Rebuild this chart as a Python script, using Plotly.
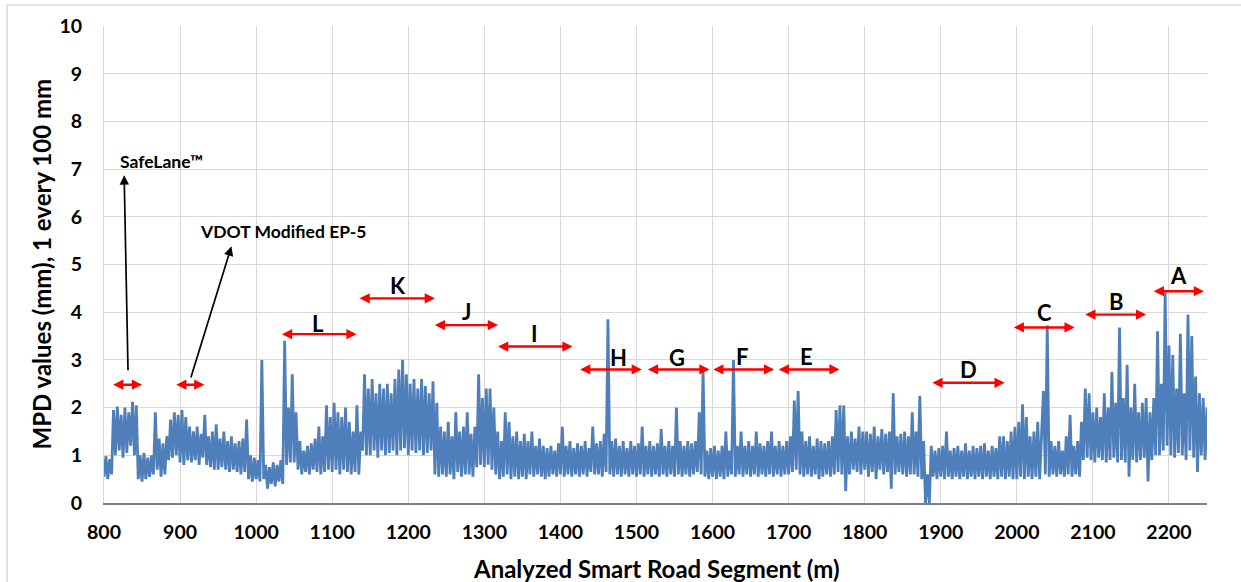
import numpy as np
import plotly.graph_objects as go

# ---- data: MPD profile (one value every 2.5 m, 800 -> 2250 m)
x_start, x_step = 800.0, 2.5
mpd = [
    # 800 - 847.5
    0.55, 0.98, 0.5, 0.92, 0.6, 1.95, 1.0, 2.02, 1.1, 1.85, 0.95, 2.0, 1.05, 1.9, 1.2, 2.12, 1.0, 2.05, 0.5, 1.0,
    # 850 - 897.5
    0.45, 1.05, 0.5, 0.95, 0.55, 1.0, 0.6, 1.9, 0.7, 1.35, 0.55, 1.25, 0.6, 1.4, 0.9, 1.75, 0.95, 1.9, 1.0, 1.85,
    # 900 - 947.5
    0.85, 1.95, 0.8, 1.8, 0.9, 1.6, 0.85, 1.5, 0.9, 1.6, 0.8, 1.45, 0.95, 1.85, 0.8, 1.4, 0.75, 1.5, 0.7, 1.65,
    # 950 - 997.5
    0.7, 1.35, 0.75, 1.5, 0.7, 1.3, 0.65, 1.4, 0.7, 1.25, 0.65, 1.3, 0.6, 1.35, 0.65, 1.75, 0.5, 1.0, 0.45, 0.95,
    # 1000 - 1047.5
    0.5, 0.9, 0.45, 3.0, 0.5, 0.8, 0.3, 0.75, 0.4, 0.85, 0.35, 0.8, 0.45, 0.9, 0.4, 3.4, 0.8, 2.0, 0.85, 2.7,
    # 1050 - 1097.5
    0.85, 1.9, 0.7, 1.3, 0.6, 1.1, 0.65, 1.2, 0.6, 1.25, 0.7, 1.35, 0.65, 1.6, 0.6, 1.4, 0.65, 2.05, 0.7, 1.8,
    # 1100 - 1147.5
    0.65, 2.1, 0.7, 1.9, 0.6, 1.8, 0.7, 2.0, 0.65, 1.7, 0.6, 1.5, 0.65, 2.05, 0.6, 1.5, 1.1, 2.7, 1.0, 2.4,
    # 1150 - 1197.5
    1.0, 2.6, 1.1, 2.3, 0.95, 2.5, 1.1, 2.4, 1.0, 2.5, 1.05, 2.3, 1.1, 2.6, 1.0, 2.8, 1.1, 3.0, 1.15, 2.7,
    # 1200 - 1247.5
    1.0, 2.5, 1.1, 2.6, 1.05, 2.4, 1.1, 2.6, 1.0, 2.45, 1.05, 2.3, 1.1, 2.55, 0.6, 2.1, 0.55, 1.6, 0.6, 1.5,
    # 1250 - 1297.5
    0.55, 1.7, 0.6, 1.4, 0.5, 1.9, 0.65, 1.5, 0.55, 1.6, 0.6, 1.9, 0.6, 1.45, 0.55, 1.6, 0.75, 2.7, 0.8, 2.2,
    # 1300 - 1347.5
    0.75, 2.4, 0.8, 2.4, 0.7, 2.0, 0.6, 1.5, 0.5, 1.3, 0.55, 1.9, 0.6, 1.7, 0.5, 1.4, 0.55, 1.5, 0.5, 1.3,
    # 1350 - 1397.5
    0.55, 1.45, 0.5, 1.3, 0.6, 1.5, 0.55, 1.2, 0.6, 1.35, 0.55, 1.2, 0.5, 1.15, 0.55, 1.2, 0.6, 1.1, 0.55, 1.25,
    # 1400 - 1447.5
    0.6, 1.6, 0.55, 1.2, 0.6, 1.3, 0.55, 1.15, 0.6, 1.25, 0.55, 1.2, 0.6, 1.3, 0.55, 1.15, 0.65, 1.6, 0.6, 1.25,
    # 1450 - 1497.5
    0.6, 1.3, 0.55, 1.45, 0.65, 3.85, 0.6, 1.3, 0.55, 1.35, 0.6, 1.2, 0.55, 1.3, 0.6, 1.15, 0.55, 1.3, 0.6, 1.2,
    # 1500 - 1547.5
    0.55, 1.25, 0.6, 1.6, 0.55, 1.2, 0.6, 1.3, 0.55, 1.2, 0.6, 1.25, 0.55, 1.55, 0.6, 1.2, 0.55, 1.3, 0.6, 1.2,
    # 1550 - 1597.5
    0.55, 2.0, 0.6, 1.3, 0.55, 1.2, 0.6, 1.3, 0.55, 1.25, 0.6, 1.3, 0.65, 1.9, 0.6, 2.8, 0.55, 1.1, 0.5, 1.15,
    # 1600 - 1647.5
    0.55, 1.2, 0.5, 1.1, 0.55, 1.2, 0.5, 1.5, 0.55, 1.1, 0.6, 3.0, 0.55, 1.2, 0.6, 1.5, 0.55, 1.2, 0.6, 1.3,
    # 1650 - 1697.5
    0.55, 1.2, 0.6, 1.5, 0.55, 1.25, 0.6, 1.2, 0.55, 1.3, 0.6, 1.5, 0.55, 1.2, 0.6, 1.3, 0.55, 1.2, 0.6, 1.3,
    # 1700 - 1747.5
    0.6, 1.4, 0.65, 2.15, 0.7, 2.35, 0.6, 1.5, 0.55, 1.3, 0.6, 1.4, 0.55, 1.2, 0.6, 1.35, 0.5, 1.3, 0.55, 1.25,
    # 1750 - 1797.5
    0.6, 1.3, 0.55, 1.4, 0.6, 1.95, 0.65, 2.05, 0.6, 2.05, 0.25, 1.4, 0.6, 1.5, 0.7, 1.35, 0.65, 1.6, 0.6, 1.5,
    # 1800 - 1847.5
    0.7, 1.5, 0.55, 1.45, 0.65, 1.6, 0.5, 1.4, 0.7, 1.55, 0.6, 1.45, 0.65, 1.5, 0.3, 2.3, 0.6, 1.4, 0.65, 1.45,
    # 1850 - 1897.5
    0.6, 1.5, 0.55, 1.4, 0.6, 1.9, 0.6, 1.5, 0.55, 2.25, 0.5, 1.3, 0.0, 0.6, 0.0, 1.2, 0.55, 1.1, 0.5, 1.15,
    # 1900 - 1947.5
    0.55, 1.2, 0.5, 1.5, 0.55, 1.1, 0.5, 1.15, 0.55, 1.2, 0.5, 1.1, 0.55, 1.25, 0.5, 1.1, 0.55, 1.2, 0.5, 1.15,
    # 1950 - 1997.5
    0.55, 1.2, 0.5, 1.25, 0.55, 1.1, 0.5, 1.2, 0.55, 1.15, 0.5, 1.4, 0.55, 1.4, 0.5, 1.3, 0.55, 1.5, 0.5, 1.6,
    # 2000 - 2047.5
    0.5, 1.7, 0.55, 2.07, 0.5, 1.8, 0.55, 1.4, 0.5, 1.5, 0.55, 1.7, 0.5, 1.4, 2.35, 0.6, 3.72, 0.55, 1.3, 0.6,
    # 2050 - 2097.5
    1.2, 0.55, 1.3, 0.6, 1.1, 0.55, 1.4, 0.6, 1.85, 0.55, 1.2, 0.6, 1.3, 0.55, 1.7, 0.9, 2.4, 0.95, 2.3, 0.9,
    # 2100 - 2147.5
    1.9, 0.85, 2.0, 0.95, 1.8, 0.9, 2.3, 0.85, 2.0, 0.9, 2.75, 0.95, 2.1, 0.85, 3.68, 0.9, 2.2, 0.85, 2.9, 0.55,
    # 2150 - 2197.5
    2.0, 0.9, 2.5, 0.85, 1.9, 0.9, 2.1, 0.95, 2.2, 0.45, 1.9, 0.9, 2.2, 1.0, 3.6, 1.0, 2.5, 1.1, 4.42, 1.2,
    # 2200 - 2250
    3.3, 1.0, 3.1, 0.95, 2.4, 1.05, 3.55, 1.0, 2.3, 0.9, 3.95, 1.1, 3.5, 0.95, 2.65, 0.65, 2.3, 1.0, 2.2, 0.9,
    2.0,
]
distance = x_start + x_step * np.arange(len(mpd))

# ---- section markers (red double arrows)
sec_labels = ["L", "K", "J", "I", "H", "G", "F", "E", "D", "C", "B", "A"]
sec_start = [1032, 1134, 1233, 1316, 1424, 1513, 1599, 1685, 1887, 1994, 2088, 2178]
sec_end = [1132, 1235, 1318, 1416, 1507, 1596, 1681, 1767, 1984, 2076, 2170, 2246]
sec_level = [3.54, 4.29, 3.73, 3.28, 2.80, 2.80, 2.80, 2.80, 2.52, 3.68, 3.95, 4.44]
sec_lab_x = [1081, 1187, 1276, 1366, 1476, 1553, 1639, 1723, 1936, 2036, 2131, 2212]
sec_lab_y = [3.77, 4.55, 4.01, 3.56, 3.04, 3.06, 3.07, 3.07, 2.79, 3.99, 4.22, 4.76]

# small treatment markers
treat_start = [810, 893]
treat_end = [850, 932]
treat_level = [2.48, 2.48]
treat_names = ["SafeLane™", "VDOT Modified EP-5"]
treat_tail_x = [831.6, 913.6]
treat_tail_y = [2.75, 2.60]
treat_head_x = [826.5, 967.5]
treat_head_y = [6.87, 5.38]
treat_text_x = [818.4, 923.6]
treat_text_y = [7.15, 5.69]

FONT = "Lato"
fig = go.Figure()
fig.add_trace(go.Scatter(x=distance, y=mpd, mode="lines",
                         line=dict(color="#4f7fbb", width=2.8), showlegend=False,
                         hoverinfo="x+y"))

ann = []
def red_arrow(x0, x1, y):
    return dict(x=x1, y=y, ax=x0, ay=y, xref="x", yref="y", axref="x", ayref="y",
                text="", showarrow=True, arrowside="end+start", arrowhead=2,
                startarrowhead=2, arrowsize=0.85, startarrowsize=0.85,
                arrowwidth=2.4, arrowcolor="#ff0000", standoff=0, startstandoff=0)

for lab, s, e, lv, lx, ly in zip(sec_labels, sec_start, sec_end, sec_level, sec_lab_x, sec_lab_y):
    ann.append(red_arrow(s, e, lv))
    ann.append(dict(x=lx, y=ly, xref="x", yref="y", text=lab, showarrow=False,
                    font=dict(family=FONT, size=22, color="black", weight="bold")))

for s, e, lv, nm, tx, ty, hx, hy, px, py in zip(treat_start, treat_end, treat_level, treat_names,
                                                 treat_tail_x, treat_tail_y, treat_head_x, treat_head_y,
                                                 treat_text_x, treat_text_y):
    ann.append(red_arrow(s, e, lv))
    ann.append(dict(x=hx, y=hy, ax=tx, ay=ty, xref="x", yref="y", axref="x", ayref="y",
                    text="", showarrow=True, arrowhead=2, arrowsize=1.1, arrowwidth=1.7,
                    arrowcolor="black", standoff=0))
    ann.append(dict(x=px, y=py, xref="x", yref="y", text=nm, showarrow=False,
                    xanchor="left", yanchor="middle",
                    font=dict(family=FONT, size=17.5, color="black", weight="bold")))

# axis titles
ann.append(dict(x=-0.0571, y=0.5, xref="paper", yref="paper", text="MPD values (mm), 1 every 100 mm",
                textangle=-90, showarrow=False, xanchor="center", yanchor="middle",
                font=dict(family=FONT, size=24, color="black", weight="bold")))
ann.append(dict(x=0.5, y=-0.138, xref="paper", yref="paper", text="Analyzed Smart Road Segment (m)",
                showarrow=False, xanchor="center", yanchor="middle",
                font=dict(family=FONT, size=24, color="black", weight="bold")))

fig.update_layout(
    width=1241, height=582,
    margin=dict(l=104, r=34, t=26, b=79),
    paper_bgcolor="white", plot_bgcolor="white",
    annotations=ann,
    shapes=[dict(type="rect", xref="paper", yref="paper", x0=-0.0879, x1=1.05, y0=-0.2, y1=1.044,
                 line=dict(color="#d9d9d9", width=1.5), fillcolor="rgba(0,0,0,0)", layer="below")],
)
fig.update_xaxes(range=[800, 2250], dtick=100, tick0=800, showgrid=True, gridcolor="#d9d9d9",
                 gridwidth=1, zeroline=False, showline=True, linecolor="#7f7f7f", linewidth=1.5,
                 ticks="", ticklabelstandoff=11,
                 tickfont=dict(family=FONT, size=19.5, color="black", weight="bold"))
fig.update_yaxes(range=[0, 10], dtick=1, tick0=0, showgrid=True, gridcolor="#d9d9d9", gridwidth=1,
                 zeroline=False, showline=True, linecolor="#d9d9d9", linewidth=1,
                 ticks="", ticklabelstandoff=17,
                 tickfont=dict(family=FONT, size=19.5, color="black", weight="bold"))

fig.write_html("out.html")
